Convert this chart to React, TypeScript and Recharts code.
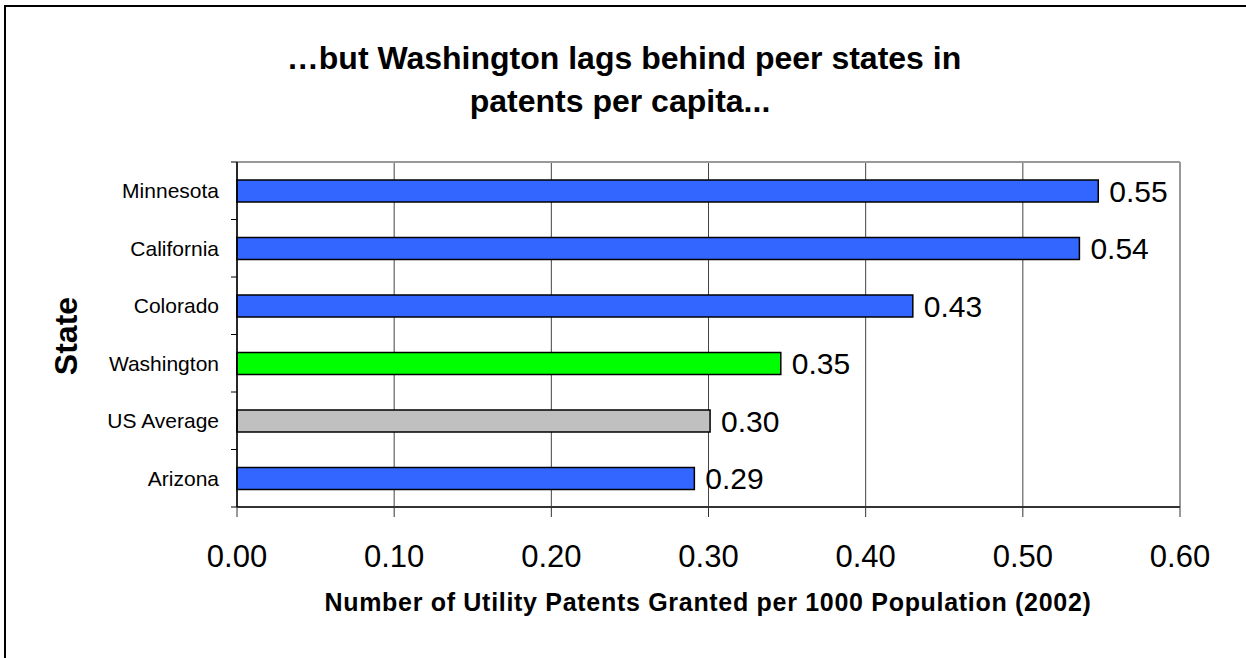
import React from 'react';
import {
  BarChart,
  Bar,
  XAxis,
  YAxis,
  CartesianGrid,
  ReferenceLine,
  LabelList,
  Cell,
} from 'recharts';

const states = ['Minnesota', 'California', 'Colorado', 'Washington', 'US Average', 'Arizona'];
const patentsPer1000 = [0.548, 0.536, 0.43, 0.346, 0.301, 0.291];
const xTicks = [0, 0.1, 0.2, 0.3, 0.4, 0.5, 0.6];

const FONT = '"Liberation Sans", Arial, sans-serif';
const LABEL_GAP = 18;
const PLOT_H = 345;

const colorFor = (state: string) => {
  if (state === 'Washington') return '#00FF00';
  if (state === 'US Average') return '#C0C0C0';
  return '#3366FF';
};

const data = states.map((s, i) => ({ state: s, value: patentsPer1000[i] }));

// plain text tick (no wrapping) plus Excel-style tick marks on the band edges
const StateTick = (props: any) => {
  const { x, y, payload, index } = props;
  const half = payload.offset || PLOT_H / states.length / 2;
  const ax = x + LABEL_GAP;
  return (
    <g>
      <text x={x} y={y} dy="0.36em" textAnchor="end" fontSize={21} fill="#000" fontFamily={FONT}>
        {payload.value}
      </text>
      <line x1={ax - 6} x2={ax} y1={y - half} y2={y - half} stroke="#000" />
      {index === states.length - 1 && (
        <line x1={ax - 6} x2={ax} y1={y + half} y2={y + half} stroke="#000" />
      )}
    </g>
  );
};

export default function App() {
  return (
    <div style={{ position: 'relative', width: 1246, height: 658, overflow: 'hidden', fontFamily: FONT }}>
      <style>{`body{margin:0}`}</style>
      <BarChart
        width={1246}
        height={658}
        data={data}
        layout="vertical"
        margin={{ top: 161, right: 66, bottom: 150, left: 236 }}
      >
        <CartesianGrid horizontal={false} stroke="#444" strokeWidth={1} />
        <XAxis
          type="number"
          domain={[0, 0.6]}
          ticks={xTicks}
          tickFormatter={(v: number) => v.toFixed(2)}
          height={1}
          tickSize={10}
          tickMargin={28}
          axisLine={{ stroke: '#333', strokeWidth: 2 }}
          tickLine={{ stroke: '#333' }}
          tick={{ fontSize: 31, fill: '#000', fontFamily: FONT }}
        />
        <XAxis
          xAxisId="top"
          orientation="top"
          type="number"
          domain={[0, 0.6]}
          height={1}
          tick={false}
          tickLine={false}
          axisLine={{ stroke: '#999', strokeWidth: 2 }}
        />
        <YAxis
          type="category"
          dataKey="state"
          width={1}
          tickSize={0}
          tickMargin={LABEL_GAP}
          tickLine={false}
          axisLine={{ stroke: '#000', strokeWidth: 1.5 }}
          tick={<StateTick />}
        />
        <ReferenceLine x={0.6} stroke="#999" strokeWidth={2} />
        <Bar dataKey="value" barSize={22} stroke="#000" strokeWidth={1.5} isAnimationActive={false}>
          {data.map((d) => (
            <Cell key={d.state} fill={colorFor(d.state)} />
          ))}
          <LabelList
            dataKey="value"
            position="right"
            offset={11}
            formatter={(v: number) => v.toFixed(2)}
            fontSize={30}
            fill="#000"
            fontFamily={FONT}
          />
        </Bar>
      </BarChart>
      <svg
        width={1246}
        height={658}
        style={{ position: 'absolute', left: 0, top: 0, pointerEvents: 'none' }}
      >
        <line x1={5} y1={5} x2={5} y2={658} stroke="#000" strokeWidth={2} />
        <line x1={4} y1={6} x2={1246} y2={6} stroke="#000" strokeWidth={2} />
        <text x={624} y={69} textAnchor="middle" fontSize={32} fontWeight="bold" fontFamily={FONT}>
          …but Washington lags behind peer states in
        </text>
        <text x={620} y={112} textAnchor="middle" fontSize={32} fontWeight="bold" fontFamily={FONT}>
          patents per capita...
        </text>
        <text
          transform="translate(77,336) rotate(-90)"
          textAnchor="middle"
          fontSize={32}
          fontWeight="bold"
          fontFamily={FONT}
        >
          State
        </text>
        <text x={708} y={611} textAnchor="middle" fontSize={25} fontWeight="bold" fontFamily={FONT} letterSpacing={0.7}>
          Number of Utility Patents Granted per 1000 Population (2002)
        </text>
      </svg>
    </div>
  );
}
